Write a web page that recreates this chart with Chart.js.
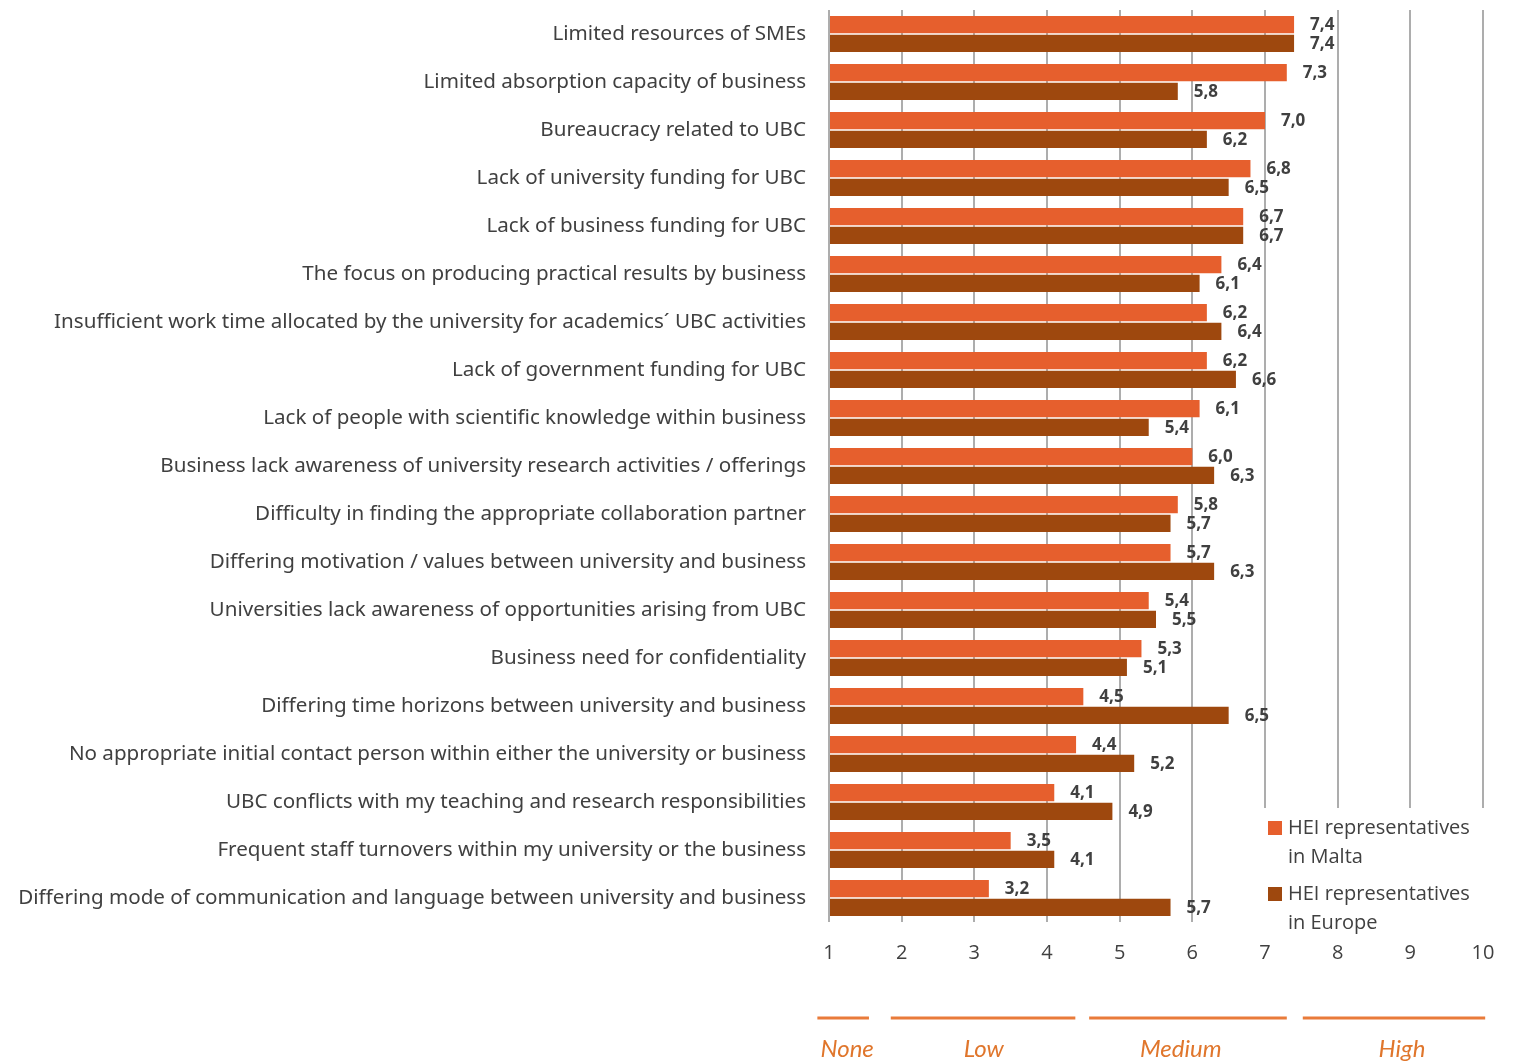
<!DOCTYPE html>
<html lang="en">
<head>
    <meta charset="UTF-8">
    <title>UBC barriers</title>
    <script src="https://cdn.jsdelivr.net/npm/chart.js"></script>
    <style>
        html, body { margin: 0; padding: 0; background: #fff; }
        #wrap { width: 1517px; height: 1061px; position: relative; }
    </style>
</head>
<body>
<div id="wrap"><canvas id="myChart"></canvas></div>
<script>
    // Barriers to university-business cooperation (UBC), mean score 1-10
    const categories = [
        'Limited resources of SMEs',
        'Limited absorption capacity of business',
        'Bureaucracy related to UBC',
        'Lack of university funding for UBC',
        'Lack of business funding for UBC',
        'The focus on producing practical results by business',
        'Insufficient work time allocated by the university for academics\u00B4 UBC activities',
        'Lack of government funding for UBC',
        'Lack of people with scientific knowledge within business',
        'Business lack awareness of university research activities / offerings',
        'Difficulty in finding the appropriate collaboration partner',
        'Differing motivation / values between university and business',
        'Universities lack awareness of opportunities arising from UBC',
        'Business need for confidentiality',
        'Differing time horizons between university and business',
        'No appropriate initial contact person within either the university or business',
        'UBC conflicts with my teaching and research responsibilities',
        'Frequent staff turnovers within my university or the business',
        'Differing mode of communication and language between university and business'
    ];
    const maltaValues = [7.4, 7.3, 7.0, 6.8, 6.7, 6.4, 6.2, 6.2, 6.1, 6.0, 5.8, 5.7, 5.4, 5.3, 4.5, 4.4, 4.1, 3.5, 3.2];
    const europeValues = [7.4, 5.8, 6.2, 6.5, 6.7, 6.1, 6.4, 6.6, 5.4, 6.3, 5.7, 6.3, 5.5, 5.1, 6.5, 5.2, 4.9, 4.1, 5.7];
    const seriesNames = ['HEI representatives in Malta', 'HEI representatives in Europe'];
    const xTicks = [1, 2, 3, 4, 5, 6, 7, 8, 9, 10];

    // importance bands under the axis, in score units
    const bandNames = ['None', 'Low', 'Medium', 'High'];
    const bandFrom = [0.84, 1.85, 4.58, 7.52];
    const bandTo = [1.55, 4.39, 7.30, 10.03];
    const bandLabelAt = [1.25, 3.13, 5.84, 8.885];

    const COLORS = ['#E65F2D', '#9E480E'];
    const TEXT = '#404040';

    const fmt = v => v.toFixed(1).replace('.', ',');

    // value labels to the right of each bar
    const valueLabels = {
        id: 'valueLabels',
        afterDatasetsDraw(chart) {
            const ctx = chart.ctx;
            ctx.save();
            ctx.font = 'bold 17px "Open Sans", sans-serif';
            ctx.fillStyle = TEXT;
            ctx.textAlign = 'left';
            ctx.textBaseline = 'middle';
            chart.data.datasets.forEach((ds, i) => {
                chart.getDatasetMeta(i).data.forEach((bar, j) => {
                    ctx.fillText(fmt(ds.data[j]), bar.x + 16, bar.y + 1);
                });
            });
            ctx.restore();
        }
    };

    // legend box in the lower right corner of the plot
    const cornerLegend = {
        id: 'cornerLegend',
        afterDraw(chart) {
            const ctx = chart.ctx;
            ctx.save();
            ctx.fillStyle = '#fff';
            ctx.fillRect(1256, 808, 261, 128);
            ctx.font = '20px "Open Sans", sans-serif';
            ctx.textBaseline = 'middle';
            ctx.textAlign = 'left';
            chart.data.datasets.forEach((ds, i) => {
                const y = 828 + i * 66;
                ctx.fillStyle = ds.backgroundColor;
                ctx.fillRect(1268, y - 7, 14, 14);
                ctx.fillStyle = TEXT;
                const cut = ds.label.lastIndexOf(' in ');
                ctx.fillText(ds.label.slice(0, cut), 1288, y);
                ctx.fillText(ds.label.slice(cut + 1), 1288, y + 29);
            });
            ctx.restore();
        }
    };

    // None / Low / Medium / High bands below the x axis
    const scoreBands = {
        id: 'scoreBands',
        afterDraw(chart) {
            const ctx = chart.ctx;
            const x = chart.scales.x;
            ctx.save();
            ctx.strokeStyle = '#E97B3A';
            ctx.lineWidth = 3;
            ctx.fillStyle = '#E0762C';
            ctx.font = 'italic 24px Lato, sans-serif';
            ctx.textAlign = 'center';
            ctx.textBaseline = 'alphabetic';
            bandNames.forEach((name, i) => {
                ctx.beginPath();
                ctx.moveTo(x.getPixelForValue(bandFrom[i]), 1018);
                ctx.lineTo(x.getPixelForValue(bandTo[i]), 1018);
                ctx.stroke();
                ctx.fillText(name, x.getPixelForValue(bandLabelAt[i]), 1057);
            });
            ctx.restore();
        }
    };

    const ctx = document.getElementById('myChart').getContext('2d');
    new Chart(ctx, {
        type: 'bar',
        data: {
            labels: categories,
            datasets: [
                { label: seriesNames[0], data: maltaValues, backgroundColor: COLORS[0] },
                { label: seriesNames[1], data: europeValues, backgroundColor: COLORS[1] }
            ]
        },
        options: {
            indexAxis: 'y',
            responsive: true,
            maintainAspectRatio: false,
            animation: false,
            base: 1,
            categoryPercentage: 0.78,
            barPercentage: 0.92,
            layout: { padding: { top: 10, right: 34, left: 0, bottom: 0 } },
            plugins: {
                legend: { display: false },
                tooltip: { enabled: false }
            },
            scales: {
                x: {
                    min: 1,
                    max: 10,
                    afterFit(scale) {
                        scale.height = 139;
                        scale.paddingLeft = 0;
                        scale.paddingRight = 0;
                    },
                    afterBuildTicks(scale) { scale.ticks = xTicks.map(v => ({ value: v })); },
                    border: { display: false },
                    grid: { color: '#ADADAD', lineWidth: 2, drawTicks: false },
                    ticks: {
                        padding: 19,
                        color: TEXT,
                        font: { family: '"Open Sans", sans-serif', size: 20 }
                    }
                },
                y: {
                    afterFit(scale) {
                        scale.width = 829;
                        scale.paddingTop = 0;
                        scale.paddingBottom = 0;
                    },
                    border: { display: false },
                    grid: { display: false, drawTicks: false },
                    ticks: {
                        padding: 23,
                        color: TEXT,
                        autoSkip: false,
                        font: { family: '"Noto Sans", sans-serif', size: 20.6 }
                    }
                }
            }
        },
        plugins: [valueLabels, cornerLegend, scoreBands]
    });
</script>
</body>
</html>
